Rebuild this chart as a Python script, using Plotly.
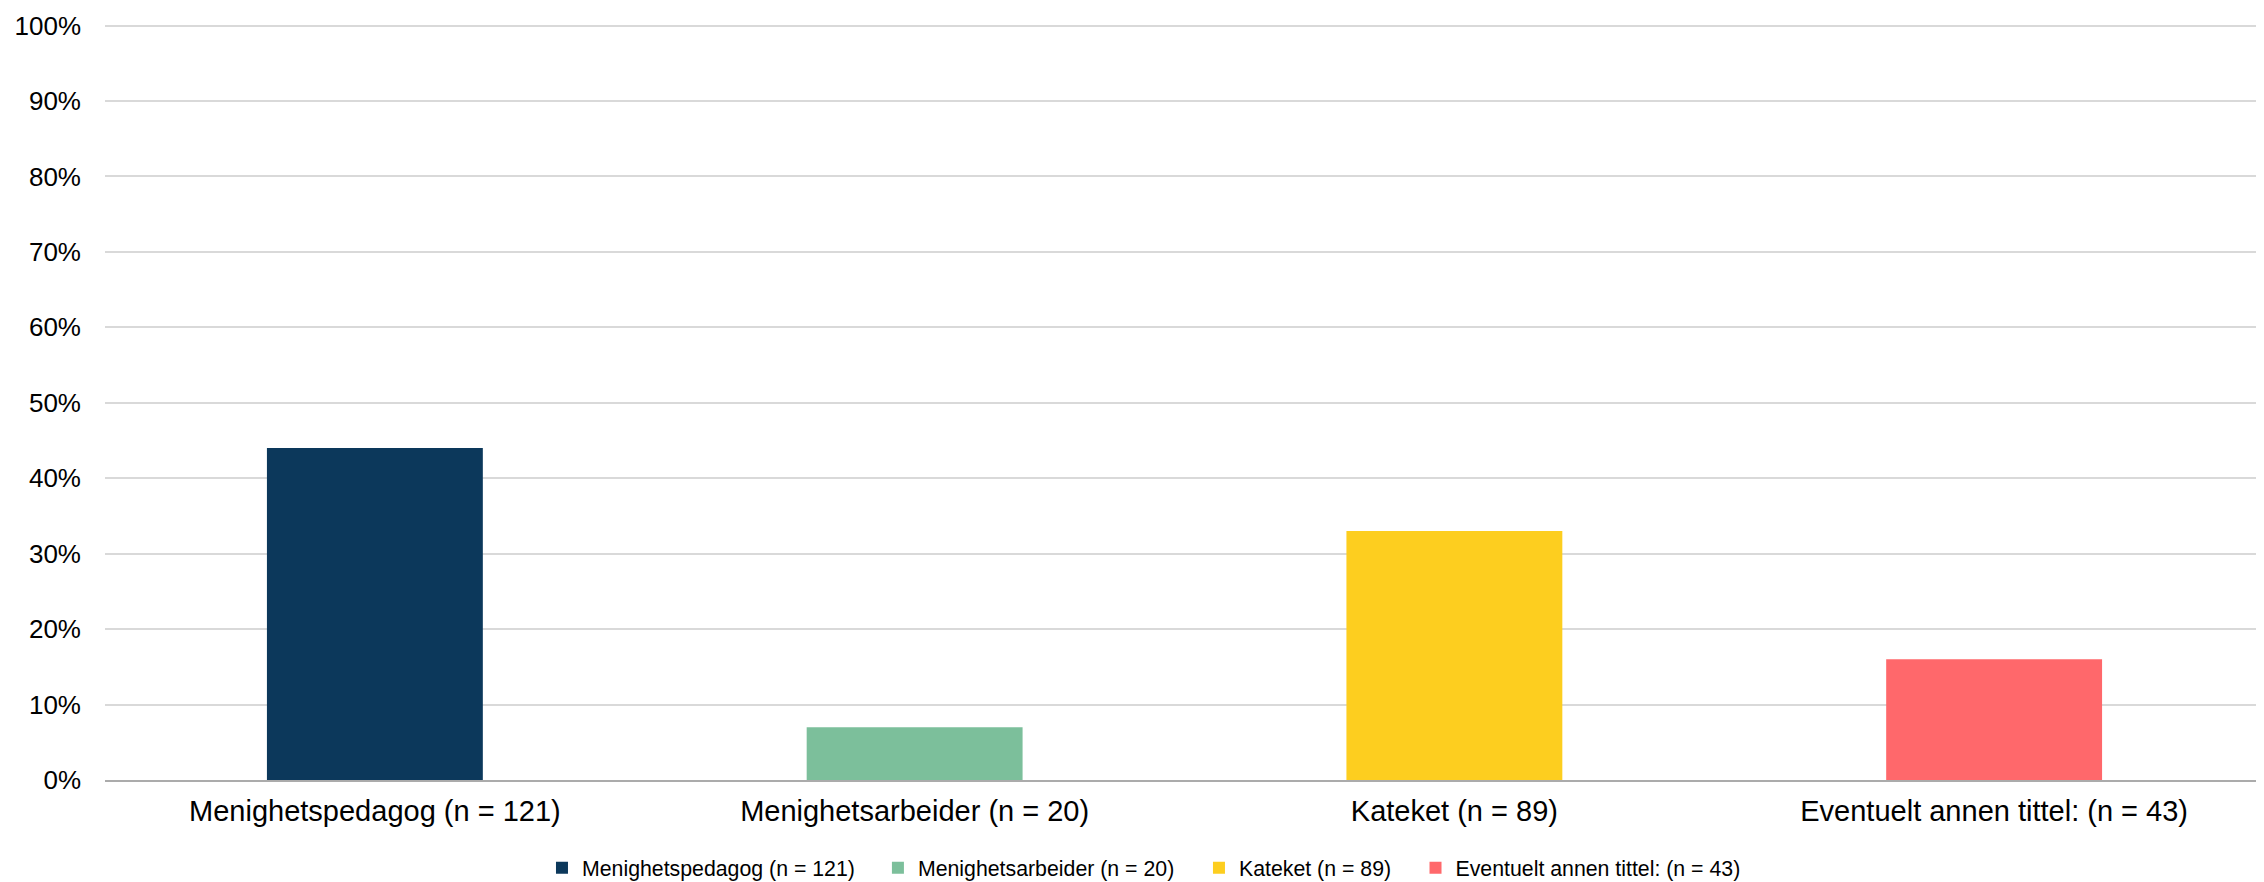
import plotly.graph_objects as go

categories = ["Menighetspedagog (n = 121)", "Menighetsarbeider (n = 20)",
              "Kateket (n = 89)", "Eventuelt annen tittel: (n = 43)"]
values = [0.44, 0.07, 0.33, 0.16]
colors = ["#0C385B", "#7CBF9B", "#FDCE1F", "#FF686B"]
y_ticks = [i / 10 for i in range(11)]
y_tick_labels = [f"{i * 10}%" for i in range(11)]

legend_ids = ["legend", "legend2", "legend3", "legend4"]
legend_x = [0.2024, 0.3580, 0.5067, 0.6070]

fig = go.Figure()
for cat, val, col, lid in zip(categories, values, colors, legend_ids):
    fig.add_trace(go.Bar(x=[cat], y=[val], name=cat, marker_color=col,
                         marker_line_width=0, width=0.4, legend=lid))

legend_style = dict(orientation="h", xanchor="left", y=-0.1164, yanchor="middle",
                    font=dict(size=21.3), itemwidth=30, bgcolor="rgba(0,0,0,0)")
layout_legends = {lid: dict(x=lx, **legend_style) for lid, lx in zip(legend_ids, legend_x)}

# page body has an 8px margin, so the figure is 8px smaller than the window
fig.update_layout(
    width=2256, height=874,
    paper_bgcolor="white", plot_bgcolor="white",
    barmode="overlay",
    margin=dict(l=97, r=0, t=16, b=102, autoexpand=False),
    font=dict(family="Liberation Sans, Arial, sans-serif", color="#000000"),
    showlegend=True,
    **layout_legends,
)
fig.update_xaxes(
    categoryorder="array", categoryarray=categories,
    showline=True, linecolor="#ABABAB", linewidth=2,
    tickfont=dict(size=29), ticks="", ticklabelstandoff=4,
    showgrid=False, automargin=False,
)
fig.update_yaxes(
    range=[0, 1.002], tickvals=y_ticks, ticktext=y_tick_labels,
    showgrid=True, gridcolor="#D9D9D9", gridwidth=2,
    zeroline=False, tickfont=dict(size=26), ticklabelstandoff=23,
    showline=False, automargin=False,
)

fig.write_html("out.html")
